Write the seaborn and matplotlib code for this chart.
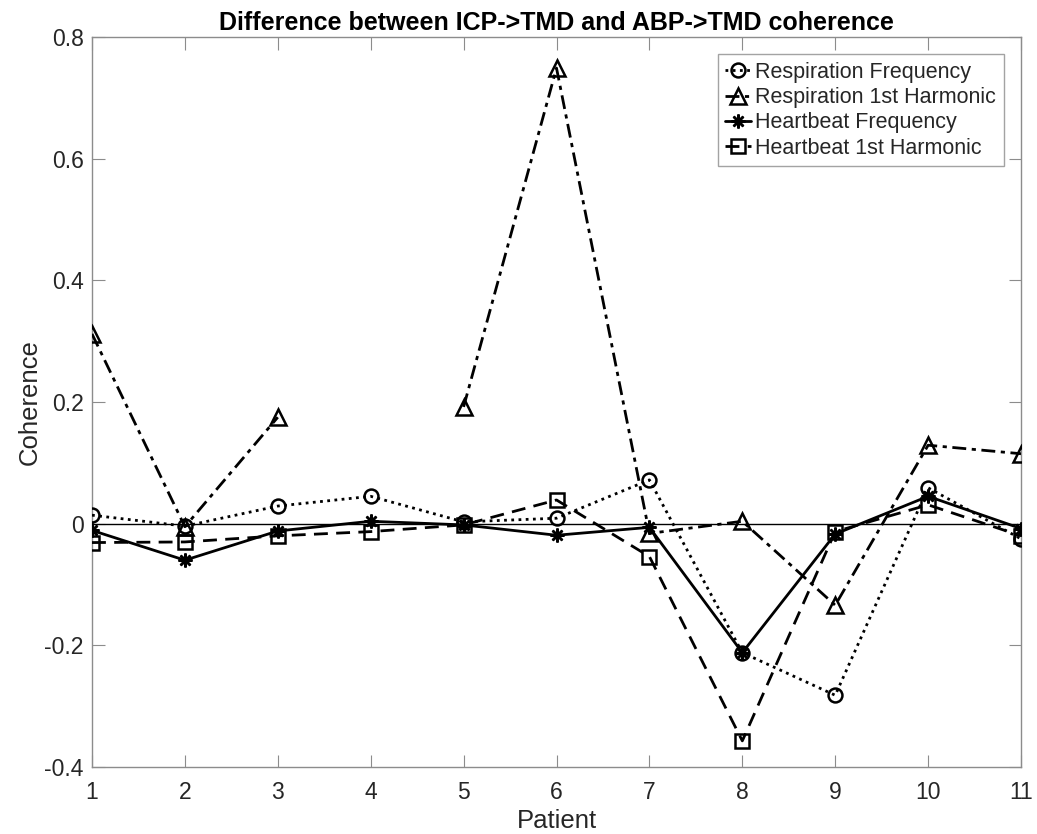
import numpy as np
import pandas as pd
import matplotlib
matplotlib.use("Agg")
import matplotlib.pyplot as plt
import seaborn as sns

# ----------------------- data -----------------------------------------------
patients = [1, 2, 3, 4, 5, 6, 7, 8, 9, 10, 11]

resp_freq = [0.014, -0.004, 0.029, 0.045, 0.003, 0.009, 0.072, -0.212, -0.282, 0.059, -0.025]
resp_harm = [0.312, -0.005, 0.175, np.nan, 0.192, 0.749, -0.016, 0.004, -0.134, 0.129, 0.115]
heart_freq = [-0.011, -0.060, -0.012, 0.004, -0.002, -0.019, -0.006, -0.212, -0.017, 0.045, -0.008]
heart_harm = [-0.031, -0.030, -0.020, -0.013, -0.002, 0.039, -0.054, -0.357, -0.013, 0.031, -0.020]

series_names = ["Respiration Frequency", "Respiration 1st Harmonic",
                "Heartbeat Frequency", "Heartbeat 1st Harmonic"]
series_values = [resp_freq, resp_harm, heart_freq, heart_harm]

yticks = [-0.4, -0.2, 0, 0.2, 0.4, 0.6, 0.8]
ytick_labels = ["-0.4", "-0.2", "0", "0.2", "0.4", "0.6", "0.8"]

# ----------------------- style ----------------------------------------------
sns.set_style("white")
plt.rcParams["font.family"] = ["Liberation Sans", "DejaVu Sans"]

styles = {
    "Respiration Frequency":    dict(linestyle=(0, (1, 1.6)), marker="o"),
    "Respiration 1st Harmonic": dict(linestyle=(0, (5, 2, 1.5, 2)), marker="^"),
    "Heartbeat Frequency":      dict(linestyle="-",  marker=(8, 2, 0)),
    "Heartbeat 1st Harmonic":   dict(linestyle=(0, (5, 3)), marker="s"),
}

fig = plt.figure(figsize=(10.37, 8.34), dpi=100)
ax = fig.add_axes([0.0887, 0.0803, 0.8959, 0.8753])

# zero line
ax.axhline(0, color="black", linewidth=1.0, zorder=1)

handles = []
for name, vals in zip(series_names, series_values):
    df = pd.DataFrame({"Patient": patients, "Coherence": vals})
    # break line at missing values
    df["seg"] = df["Coherence"].isna().cumsum()
    df = df.dropna()
    st = styles[name]
    ms = 11 if st["marker"] == "^" else 10
    for _, part in df.groupby("seg"):
        sns.lineplot(data=part, x="Patient", y="Coherence", ax=ax,
                     color="black", linewidth=2.0, linestyle=st["linestyle"],
                     marker=st["marker"], markersize=ms, markerfacecolor="none",
                     markeredgecolor="black", markeredgewidth=1.8,
                     estimator=None, sort=False, legend=False, zorder=3)
    h, = ax.plot([], [], color="black", linewidth=2.0, linestyle=st["linestyle"],
                 marker=st["marker"], markersize=ms, markerfacecolor="none",
                 markeredgecolor="black", markeredgewidth=1.8, label=name)
    handles.append(h)

ax.set_xlim(1, 11)
ax.set_ylim(-0.4, 0.8)
ax.set_xticks(patients)
ax.set_yticks(yticks)
ax.set_yticklabels(ytick_labels)

axis_grey = "#262626"
for sp in ax.spines.values():
    sp.set_color("#8c8c8c")
    sp.set_linewidth(1.0)
ax.tick_params(direction="in", length=9, width=0.8, color="#8c8c8c",
               labelsize=16.5, labelcolor=axis_grey,
               top=True, right=True, bottom=True, left=True)
ax.tick_params(axis="x", pad=10)
ax.tick_params(axis="y", pad=6)

ax.set_xlabel("Patient", fontsize=18.5, color=axis_grey, labelpad=4)
ax.set_ylabel("Coherence", fontsize=18.5, color=axis_grey, labelpad=2)
ax.set_title("Difference between ICP->TMD and ABP->TMD coherence",
             fontsize=18, fontweight="bold", color="black", pad=5)

leg = ax.legend(handles=handles, loc="upper right", fontsize=15.5,
                handlelength=1.2, handletextpad=0.2, borderpad=0.35,
                labelspacing=0.2, frameon=True, fancybox=False,
                borderaxespad=0.8)
leg.get_frame().set_edgecolor("#8c8c8c")
leg.get_frame().set_linewidth(1.0)

fig.savefig("out.png", dpi=100)
